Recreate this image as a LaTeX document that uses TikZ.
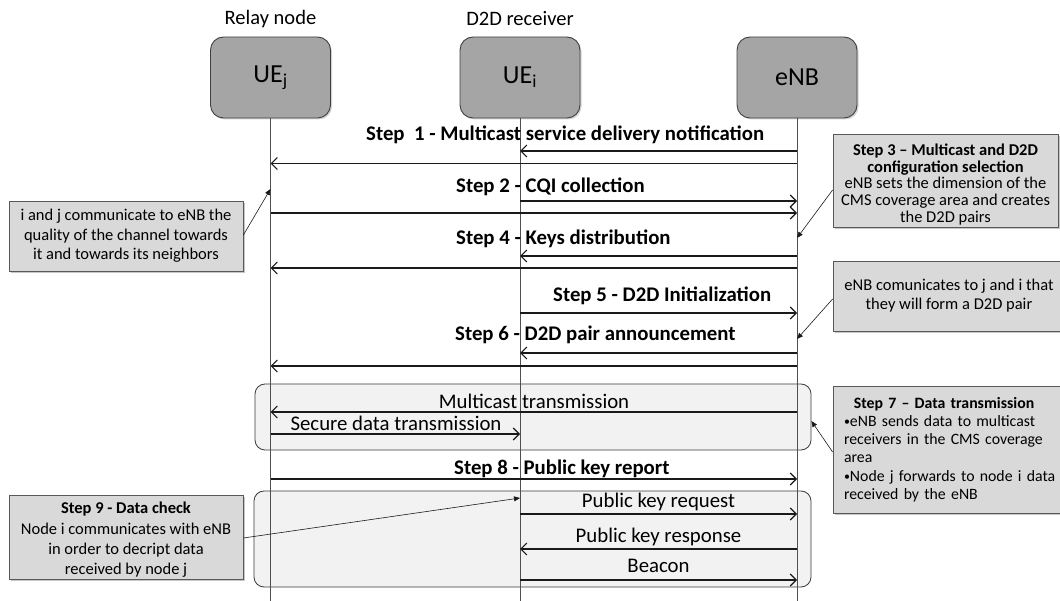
\documentclass[tikz,border=0pt]{standalone}
\usepackage{fontspec}
\setmainfont{Carlito}
\usetikzlibrary{arrows.meta,shadows}
\definecolor{actorfill}{HTML}{A5A5A5}
\definecolor{actorline}{HTML}{404040}
\definecolor{notefill}{HTML}{D9D9D9}
\definecolor{noteline}{HTML}{595959}
\definecolor{groupfill}{HTML}{F2F2F2}
\definecolor{groupline}{HTML}{3A3A3A}
\definecolor{lifecol}{HTML}{505050}
\definecolor{ink}{HTML}{1A1A1A}
\newcommand{\dotbullet}{\raisebox{0.15ex}{\fontsize{12}{12}\selectfont\textbullet}}

\begin{document}
\begin{tikzpicture}[x=1pt, y=-1pt,
  actor/.style={draw=actorline, fill=actorfill, line width=0.9pt, rounded corners=13pt,
    minimum width=120pt, minimum height=81pt, inner sep=0pt,
    font=\fontsize{26}{30}\selectfont,
    drop shadow={shadow xshift=1.5pt, shadow yshift=-1.5pt, opacity=0.35}},
  role/.style={font=\fontsize{20.5}{24}\selectfont, inner sep=0pt},
  life/.style={draw=lifecol, line width=0.8pt},
  msg/.style={draw=ink, line width=1.2pt, -{Straight Barb[length=6pt, width=12pt, line width=1.1pt]}},
  steplbl/.style={font=\fontsize{20.8}{24}\selectfont\bfseries, inner sep=0pt},
  msglbl/.style={font=\fontsize{20.8}{24}\selectfont, inner sep=0pt},
  note/.style={draw=noteline, fill=notefill, line width=0.8pt, inner sep=0pt, align=center,
    drop shadow={shadow xshift=2pt, shadow yshift=-2pt, opacity=0.45}},
  notefont/.style={font=\fontsize{16.5}{#1}\selectfont},
  notetext/.style={inner sep=0pt, align=center, font=\fontsize{16.5}{#1}\selectfont},
  pointer/.style={draw=ink, line width=0.6pt, -{Triangle[length=6pt, width=5pt]}},
  grp/.style={draw=groupline, fill=groupfill, line width=0.8pt, rounded corners=10pt, inner sep=0pt}
]
\clip (0,0) rectangle (1060,601);

% grouped exchanges (drawn first, lifelines run over them)
\node[grp, minimum width=556pt, minimum height=66pt] (g1) at (533,417) {};
\node[grp, minimum width=557pt, minimum height=96pt] (g2) at (532.5,539) {};

% participants
\node[role] (relay) at (270.5,19) {Relay node};
\node[role] (recv) at (520,19) {D2D receiver};
\node[actor] (uej) at (270.5,77.5) {UE\textsubscript{j}};
\node[actor] (uei) at (520,77.5) {UE\textsubscript{i}};
\node[actor] (enb) at (797,77.5) {eNB};

\draw[life] (uej.south) -- (uej.south |- 0,601);
\draw[life] (uei.south) -- (uei.south |- 0,601);
\draw[life] (enb.south) -- (enb.south |- 0,601);

% step 1
\node[steplbl, anchor=west] (s1) at (366,135) {Step\ \ 1 - Multicast service delivery notification};
\draw[msg] (enb |- 0,151) -- (uei |- 0,151);
\draw[msg] (enb |- 0,163.5) -- (uej |- 0,163.5);
% step 2
\node[steplbl, anchor=west] (s2) at (456,187) {Step 2 - CQI collection};
\draw[msg] (uei |- 0,201) -- (enb |- 0,201);
\draw[msg] (uej |- 0,213) -- (enb |- 0,213);
% step 4
\node[steplbl, anchor=west] (s4) at (456,239) {Step 4 - Keys distribution};
\draw[msg] (enb |- 0,256) -- (uei |- 0,256);
\draw[msg] (enb |- 0,268) -- (uej |- 0,268);
% step 5
\node[steplbl, anchor=west] (s5) at (553,296) {Step 5 - D2D Initialization};
\draw[msg] (uei |- 0,313) -- (enb |- 0,313);
% step 6
\node[steplbl, anchor=west] (s6) at (455,335) {Step 6 - D2D pair announcement};
\draw[msg] (enb |- 0,353) -- (uei |- 0,353);
\draw[msg] (enb |- 0,366) -- (uej |- 0,366);
% step 7
\node[msglbl] (m1) at (534,401) {Multicast transmission};
\draw[msg] (enb |- 0,412) -- (uej |- 0,412);
\node[msglbl] (m2) at (396,423) {Secure data transmission};
\draw[msg] (uej |- 0,434) -- (uei |- 0,434);
% step 8
\node[steplbl, anchor=west] (s8) at (454,469) {Step 8 - Public key report};
\draw[msg] (uej |- 0,479) -- (enb |- 0,479);
% step 9
\node[msglbl] (m3) at (658.5,502) {Public key request};
\draw[msg] (uei |- 0,514) -- (enb |- 0,514);
\node[msglbl] (m4) at (658.5,537) {Public key response};
\draw[msg] (enb |- 0,549) -- (uei |- 0,549);
\node[msglbl] (m5) at (658.5,566) {Beacon};
\draw[msg] (uei |- 0,580) -- (enb |- 0,580);

% callouts
\node[note, notefont=19.5, minimum width=234pt, minimum height=70pt] (c1) at (126,236)
  {i and j communicate to eNB the\\quality of the channel towards\\it and towards its neighbors};
\draw[pointer] (c1.east |- 0,235) -- (uej |- 0,189);

\node[note, minimum width=225pt, minimum height=93pt] (c3) at (945.5,180.5) {};
\node[notetext=16.7] (c3txt) at (945.5,184.5)
  {\textbf{Step 3 -- Multicast and D2D}\\\textbf{configuration selection}\\eNB sets the dimension of the\\CMS coverage area and creates\\the D2D pairs};
\draw[pointer] (c3.west |- 0,190) -- (enb |- 0,238);

\node[note, notefont=19, minimum width=232pt, minimum height=70pt] (c5) at (949,296)
  {eNB comunicates to j and i that\\they will form a D2D pair};
\draw[pointer] (c5.west |- 0,299) -- (enb |- 0,339);

\node[note, font=\fontsize{15.8}{18.3}\selectfont, align=left, text width=222pt, inner xsep=11pt, minimum height=127pt] (c7) at (955,449.5)
  {\makebox[200pt][c]{\bfseries Step 7 -- Data transmission}\\\dotbullet eNB sends data to multicast\\receivers in the CMS coverage\\area\\\dotbullet Node j forwards to node i data\\received by the eNB};
\draw[pointer] (c7.west |- 0,452) -- (g1.east |- 0,421);

\node[note, minimum width=234pt, minimum height=84pt] (c9) at (126,537) {};
\node[notetext=20.3] (c9txt) at (126,540)
  {\textbf{Step 9 - Data check}\\Node i communicates with eNB\\in order to decript data\\received by node j};
\draw[pointer] (c9.east |- 0,538) -- (uei |- 0,498);
\end{tikzpicture}
\end{document}
